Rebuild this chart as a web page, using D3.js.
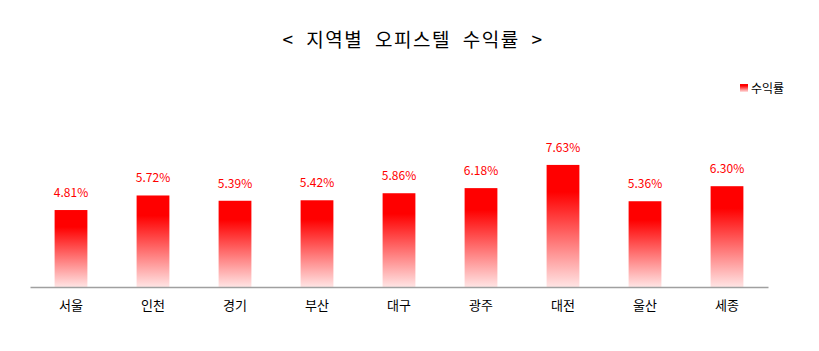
<!DOCTYPE html>
<html>
<head>
<meta charset="utf-8">
<script src="https://cdn.jsdelivr.net/npm/d3@7"></script>
<style>
  body { margin: 0; background: #fff; }
  text { font-family: "Noto Sans CJK KR", "Noto Sans", sans-serif; }
</style>
</head>
<body>
<div id="chart"></div>
<script>
var regions = ["서울", "인천", "경기", "부산", "대구", "광주", "대전", "울산", "세종"];
var yields = [4.81, 5.72, 5.39, 5.42, 5.86, 6.18, 7.63, 5.36, 6.30];
var seriesName = "수익률";

var width = 819, height = 351;
var margin = {top: 159, right: 51, bottom: 64, left: 30};

var svg = d3.select("#chart").append("svg")
    .attr("width", width)
    .attr("height", height);

var defs = svg.append("defs");
var grad = defs.append("linearGradient")
    .attr("id", "barGrad")
    .attr("x1", "0%").attr("y1", "0%")
    .attr("x2", "0%").attr("y2", "100%");
grad.append("stop").attr("offset", "0%").attr("stop-color", "#ff0000");
grad.append("stop").attr("offset", "22%").attr("stop-color", "#ff0000");
grad.append("stop").attr("offset", "100%").attr("stop-color", "#ffe4e4");

var x = d3.scaleBand()
    .domain(regions)
    .range([margin.left, width - margin.right])
    .paddingInner(0.6)
    .paddingOuter(0.3);

var y = d3.scaleLinear()
    .domain([0, 8])
    .range([height - margin.bottom, margin.top]);

// title
svg.append("text")
    .attr("x", 413)
    .attr("y", 47)
    .attr("text-anchor", "middle")
    .style("font-size", "19px")
    .style("font-weight", 400)
    .style("letter-spacing", "1.5px")
    .style("word-spacing", "6px")
    .attr("fill", "#000")
    .text("< 지역별 오피스텔 수익률 >");

// legend
svg.append("rect")
    .attr("x", 740).attr("y", 84)
    .attr("width", 8).attr("height", 8)
    .style("fill", "url(#barGrad)");
svg.append("text")
    .attr("x", 751).attr("y", 93)
    .style("font-size", "12px")
    .text(seriesName);

// bars
svg.selectAll(".bar")
    .data(yields)
    .enter().append("rect")
        .attr("class", "bar")
        .attr("x", function(d, i) { return x(regions[i]); })
        .attr("y", function(d) { return y(d); })
        .attr("width", x.bandwidth())
        .attr("height", function(d) { return y(0) - y(d); })
        .style("fill", "url(#barGrad)");

// value labels
svg.selectAll(".val")
    .data(yields)
    .enter().append("text")
        .attr("class", "val")
        .attr("x", function(d, i) { return x(regions[i]) + x.bandwidth() / 2; })
        .attr("y", function(d) { return y(d) - 13; })
        .attr("text-anchor", "middle")
        .style("font-size", "12px")
        .attr("fill", "#ff0000")
        .text(function(d) { return d.toFixed(2) + "%"; });

// x axis
var xAxis = svg.append("g")
    .attr("transform", "translate(0," + y(0) + ")")
    .call(d3.axisBottom(x).tickSize(0).tickPadding(14));
xAxis.select(".domain").attr("stroke", "#a0a0a0").attr("stroke-width", 1.5);
xAxis.selectAll("text")
    .style("font-size", "13px")
    .attr("fill", "#000");
</script>
</body>
</html>
